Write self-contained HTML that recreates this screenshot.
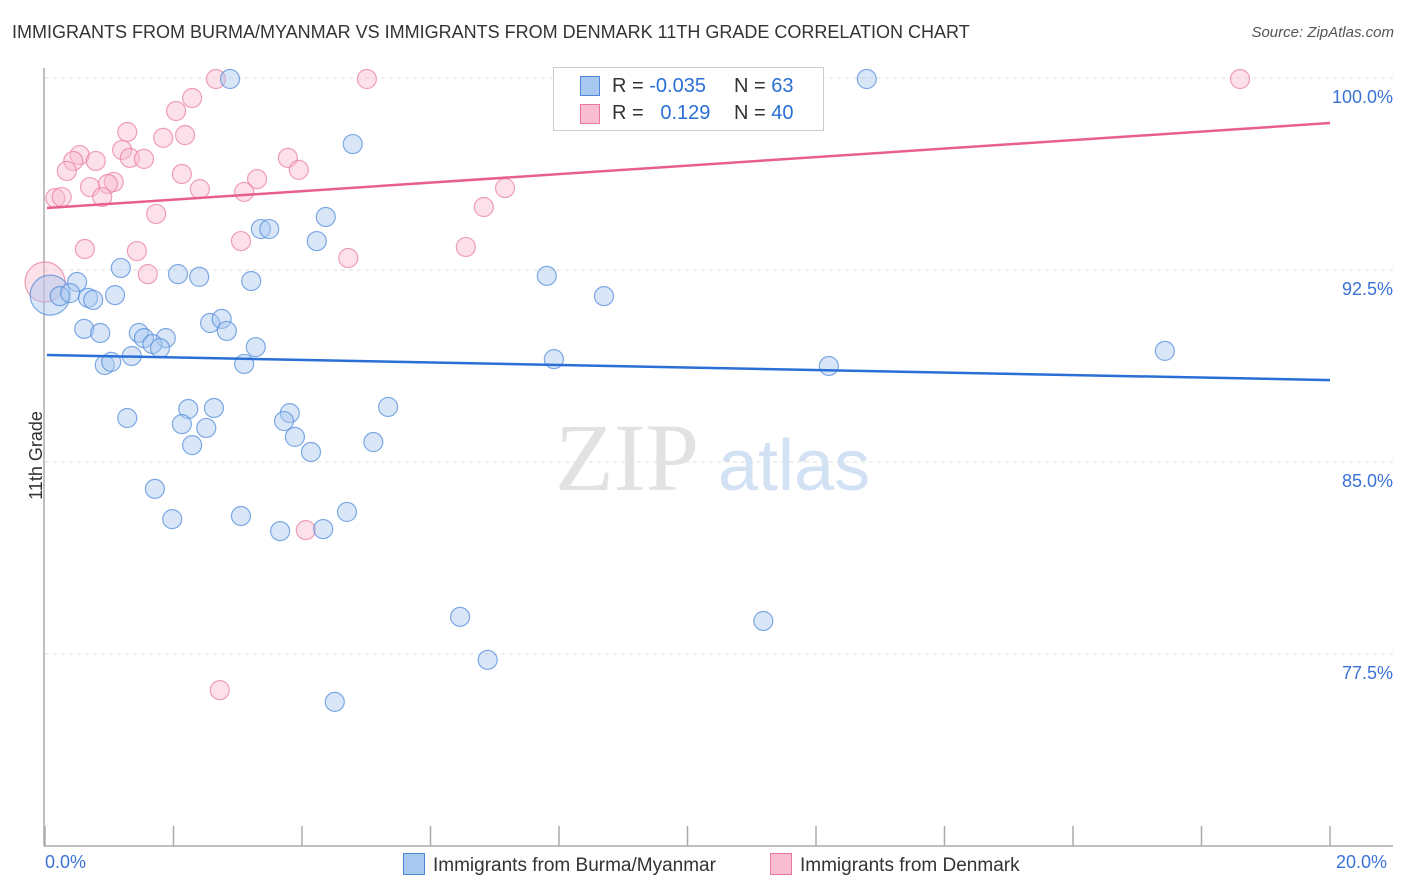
<!DOCTYPE html>
<html><head><meta charset="utf-8"><style>
body{margin:0;background:#fff;font-family:"Liberation Sans",sans-serif;}
#wrap{position:relative;width:1406px;height:892px;overflow:hidden;}
.t{position:absolute;white-space:nowrap;}
</style></head><body>
<div id="wrap">
<div class="t" style="left:12px;top:22px;font-size:18px;color:#333;">IMMIGRANTS FROM BURMA/MYANMAR VS IMMIGRANTS FROM DENMARK 11TH GRADE CORRELATION CHART</div>
<div class="t" style="right:12px;top:24px;font-size:15px;color:#555;font-style:italic;">Source: ZipAtlas.com</div>
<svg id="plot" width="1406" height="892" style="position:absolute;left:0;top:0;"></svg>
</div>
<script>
const blueX=[2.88,12.79,8.61,4.79,4.37,3.36,3.49,4.23,7.81,8.70,1.18,2.07,2.40,3.21,0.50,0.08,0.23,0.39,0.67,0.75,1.09,0.61,0.86,1.46,1.54,1.88,1.67,1.79,2.57,2.75,2.83,3.28,7.92,12.20,17.43,0.93,1.03,1.35,3.10,1.28,2.23,2.63,2.13,2.51,2.29,3.81,3.72,3.89,4.14,5.11,5.34,1.71,1.98,3.05,3.66,4.33,4.70,6.46,11.18,6.89,4.51];
const blueY=[99.96,99.96,99.84,97.42,94.57,94.10,94.10,93.63,92.27,91.48,92.58,92.34,92.23,92.07,92.03,91.52,91.48,91.60,91.41,91.33,91.52,90.20,90.04,90.04,89.84,89.84,89.61,89.45,90.43,90.59,90.12,89.49,89.02,88.75,89.34,88.79,88.91,89.14,88.83,86.72,87.07,87.11,86.48,86.33,85.66,86.91,86.60,85.98,85.39,85.78,87.15,83.95,82.77,82.89,82.30,82.38,83.05,78.95,78.79,77.27,75.63];
const pinkX=[2.66,5.01,18.60,2.29,2.04,1.28,1.84,2.18,1.20,0.54,0.44,0.34,0.79,1.32,1.54,3.78,3.95,3.30,1.07,0.98,0.70,0.89,2.13,2.41,3.10,7.16,6.83,0.16,0.26,1.73,3.05,6.55,0.62,1.43,1.60,4.72,4.06,2.72,0.0];
const pinkY=[99.96,99.96,99.96,99.22,98.71,97.89,97.66,97.77,97.19,96.99,96.76,96.37,96.76,96.88,96.84,96.88,96.41,96.05,95.94,95.86,95.74,95.35,96.25,95.66,95.55,95.70,94.96,95.31,95.35,94.69,93.63,93.40,93.32,93.24,92.34,92.97,82.34,76.09,92.03];
const blueTrend=[89.18,88.20];
const pinkTrend=[94.92,98.24];
const yTicks=[100,92.5,85,77.5];
const yTickLabels=["100.0%","92.5%","85.0%","77.5%"];
const xTicks=[0,2,4,6,8,10,12,14,16,18,20];
const NS="http://www.w3.org/2000/svg";
const svg=document.getElementById('plot');
const sx=v=>45+v*64.25;
const sy=v=>78+(100-v)*25.6;
function el(tag,attrs){const e=document.createElementNS(NS,tag);for(const k in attrs)e.setAttribute(k,attrs[k]);svg.appendChild(e);return e;}
// gridlines
yTicks.forEach((v,i)=>{
 const g=el('line',{x1:45,x2:1393,y1:sy(v),y2:sy(v),stroke:'#ddd','stroke-dasharray':'4,4'});
 
 
 const t=el('text',{x:1393,y:sy(v)+25,'text-anchor':'end','font-size':18,fill:'#3b72d6','font-family':'Liberation Sans,sans-serif'});
 t.textContent=yTickLabels[i];
 
 
});
// axes
const ya=el('line',{x1:44,x2:44,y1:68,y2:846,stroke:'#aaa','stroke-width':1.5});


const xa=el('line',{x1:44,x2:1393,y1:846,y2:846,stroke:'#aaa','stroke-width':1.5});


xTicks.forEach(v=>{const t=el('line',{x1:sx(v),x2:sx(v),y1:826,y2:846,stroke:'#aaa','stroke-width':1.5});
 
 });
// watermark
const wm=el('text',{x:555,y:490,'font-size':96,fill:'#e2e2e2','font-family':'Liberation Serif,serif'});wm.textContent='ZIP';


const wm2=el('text',{x:718,y:490,'font-size':72,fill:'#d3e1f5','font-family':'Liberation Sans,sans-serif'});wm2.textContent='atlas';


// points
function pts(X,Y,fill,stroke,name){X.forEach((x,i)=>{const big=(x<0.1);const c=el('circle',{cx:sx(x),cy:sy(Y[i]),r:big?20:9.5,fill:fill,'fill-opacity':0.45,stroke:stroke,'stroke-opacity':0.7,'stroke-width':1.2});
 
 });}
pts(pinkX,pinkY,'#f8bdd0','#e8799b','denmark-point');
pts(blueX,blueY,'#a9c8f0','#4d88da','burma-point');
const bl=el('line',{x1:sx(0.03),x2:sx(20),y1:sy(blueTrend[0]),y2:sy(blueTrend[1]),stroke:'#2a6fd6','stroke-width':2.5});


const pl=el('line',{x1:sx(0.03),x2:sx(20),y1:sy(pinkTrend[0]),y2:sy(pinkTrend[1]),stroke:'#e8608a','stroke-width':2.5});


</script>
<div class="t" style="left:-8px;top:445px;font-size:18px;color:#333;transform:rotate(-90deg);">11th Grade</div>
<div class="t" style="left:45px;top:852px;font-size:18px;color:#3b72d6;">0.0%</div>
<div class="t" style="left:1336px;top:852px;font-size:18px;color:#3b72d6;">20.0%</div>
<div style="position:absolute;left:553px;top:67px;width:269px;height:62px;border:1px solid #ccc;background:#fff;font-size:20px;color:#333;">
 <div style="position:absolute;left:26px;top:8px;width:18px;height:18px;background:#a9c8f0;border:1px solid #4d88da;"></div>
 <div class="t" style="left:58px;top:7px;">R = <span style="color:#2a6fd6">-0.035</span></div>
 <div class="t" style="left:180px;top:7px;">N = <span style="color:#2a6fd6">63</span></div>
 <div style="position:absolute;left:26px;top:36px;width:18px;height:18px;background:#f8bdd0;border:1px solid #e8799b;"></div>
 <div class="t" style="left:58px;top:34px;">R = <span style="color:#2a6fd6">&nbsp;&nbsp;0.129</span></div>
 <div class="t" style="left:180px;top:34px;">N = <span style="color:#2a6fd6">40</span></div>
</div>
<div style="position:absolute;left:403px;top:853px;font-size:19px;color:#333;">
 <span style="display:inline-block;width:20px;height:20px;background:#a9c8f0;border:1px solid #4d88da;vertical-align:-4px;margin-right:8px;"></span>Immigrants from Burma/Myanmar</div>
<div style="position:absolute;left:770px;top:853px;font-size:19px;color:#333;">
 <span style="display:inline-block;width:20px;height:20px;background:#f8bdd0;border:1px solid #e8799b;vertical-align:-4px;margin-right:8px;"></span>Immigrants from Denmark</div>
</body></html>
